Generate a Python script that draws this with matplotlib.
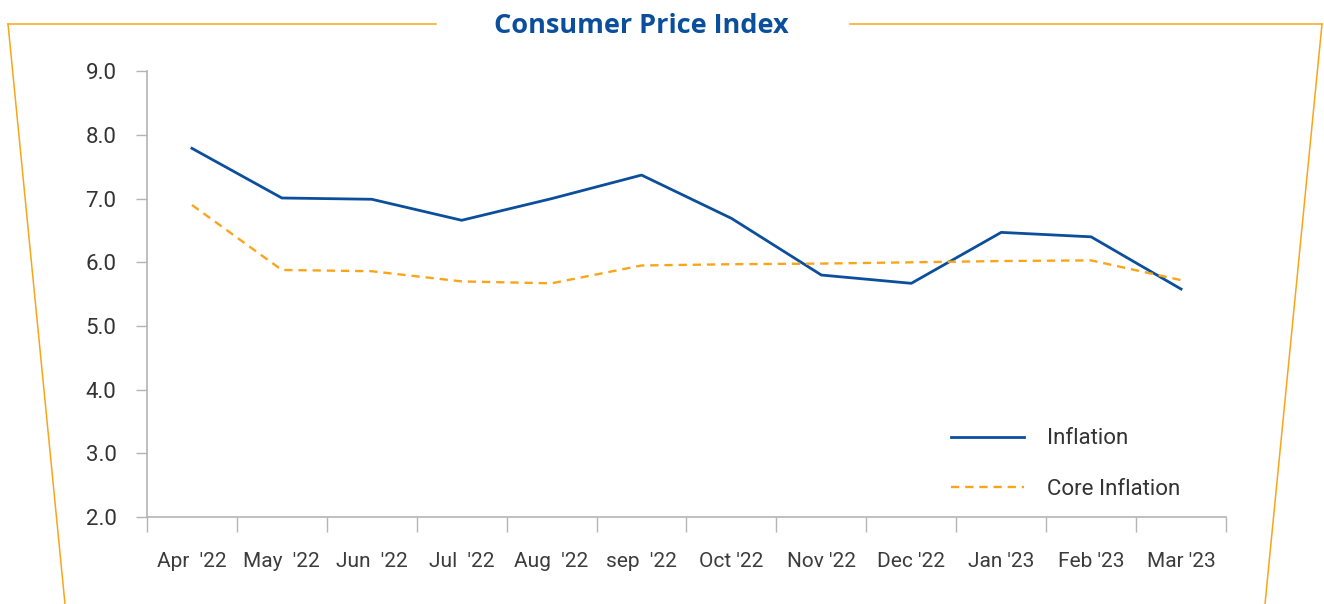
import numpy as np
import matplotlib.pyplot as plt
from matplotlib.lines import Line2D

# monthly readings, % year on year
months = ["Apr  '22", "May  '22", "Jun  '22", "Jul  '22", "Aug  '22", "sep  '22",
          "Oct '22", "Nov '22", "Dec '22", "Jan '23", "Feb '23", "Mar '23"]
inflation = [7.79, 7.01, 6.99, 6.66, 7.00, 7.37, 6.69, 5.80, 5.67, 6.47, 6.40, 5.58]
core_inflation = [6.90, 5.88, 5.86, 5.70, 5.67, 5.95, 5.97, 5.98, 6.00, 6.02, 6.03, 5.72]
yticks = [2.0, 3.0, 4.0, 5.0, 6.0, 7.0, 8.0, 9.0]

blue = '#0b4f9c'
orange = '#f9a51a'
grey = '#b4b4b4'
textcol = '#333333'

plt.rcParams['font.family'] = ['Roboto', 'DejaVu Sans']

fig = plt.figure(figsize=(13.24, 6.04), dpi=100)
ax = fig.add_axes([0.111, 0.144, 0.815, 0.738])

x = np.arange(len(months))
ax.plot(x, inflation, color=blue, lw=2.0, label='Inflation')
ax.plot(x, core_inflation, color=orange, lw=1.7, ls=(0, (3.5, 2.5)), label='Core Inflation')

ax.set_xlim(-0.5, len(months) - 0.5)
ax.set_ylim(2.0, 9.0)
ax.set_yticks(yticks)
ax.set_yticklabels(['%.1f' % v for v in yticks], fontsize=16, color=textcol)
ax.set_xticks(x)
ax.set_xticklabels(months, fontsize=15, color='#3c3c3c')
# month boundaries get the tick marks, labels sit between them
ax.set_xticks(np.arange(len(months) + 1) - 0.5, minor=True)
ax.tick_params(axis='x', which='major', length=0, pad=25)
ax.tick_params(axis='x', which='minor', length=11, width=1, color=grey, direction='out')
ax.tick_params(axis='y', length=8, width=1, color=grey, pad=14)

for side in ['top', 'right']:
    ax.spines[side].set_visible(False)
for side in ['left', 'bottom']:
    ax.spines[side].set_color(grey)
    ax.spines[side].set_linewidth(1.2)

leg = ax.legend(loc='upper left', bbox_to_anchor=(0.703, 0.224, 0.2, 0.1),
                bbox_transform=fig.transFigure, frameon=False, fontsize=16,
                handlelength=3.3, handletextpad=1.05, labelspacing=1.32)
for t in leg.get_texts():
    t.set_color(textcol)

# orange title frame
frame = [([8, 436], [580, 580]), ([850, 1322], [580, 580]),
         ([8, 65], [580, 0]), ([1322, 1265], [580, 0])]
for xs, ys in frame:
    fig.add_artist(Line2D([v / 1324 for v in xs], [v / 604 for v in ys],
                          color=orange, lw=1.1, transform=fig.transFigure))

fig.text(0.484, 0.957, 'Consumer Price Index', ha='center', va='center',
         fontsize=19.5, fontweight='bold', color=blue, family=['Open Sans', 'DejaVu Sans'])

fig.savefig('out.png', dpi=100)
